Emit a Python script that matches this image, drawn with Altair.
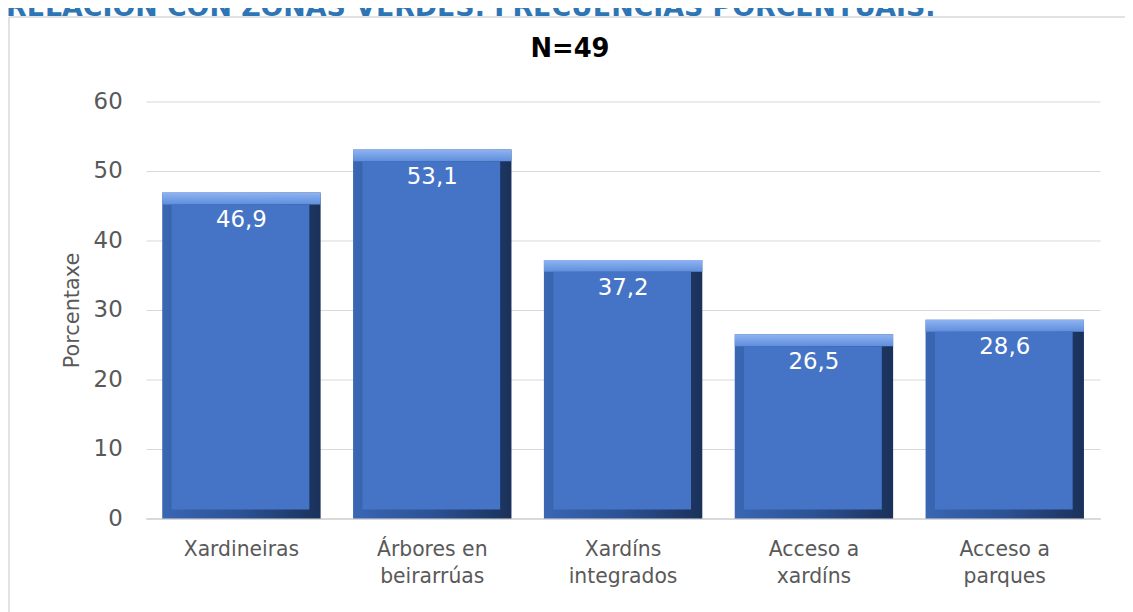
import altair as alt
import pandas as pd

categories = ["Xardineiras", "Árbores en|beirarrúas", "Xardíns|integrados", "Acceso a|xardíns", "Acceso a|parques"]
values = [46.9, 53.1, 37.2, 26.5, 28.6]
value_labels = ["46,9", "53,1", "37,2", "26,5", "28,6"]
y_ticks = [0, 10, 20, 30, 40, 50, 60]
page_title = ["RELACIÓN CON ZONAS VERDES. FRECUENCIAS PORCENTUAIS."]
chart_title = ["N=49"]

df = pd.DataFrame({"cat": categories, "v": values, "lab": value_labels})

FONT = "DejaVu Sans"

x = alt.X("cat:N", sort=categories, title=None,
          scale=alt.Scale(paddingInner=0.17, paddingOuter=0.085),
          axis=alt.Axis(labelExpr="split(datum.label, '|')", labelAngle=0,
                        labelFontSize=20.5, labelColor="#595959", labelFont=FONT,
                        labelPadding=21, labelLineHeight=27, ticks=False,
                        domainColor="#d9d9d9", domainWidth=2, labelBaseline="top"))
y = alt.Y("v:Q", title="Porcentaxe",
          scale=alt.Scale(domain=[0, 60], nice=False),
          axis=alt.Axis(values=y_ticks, labelFontSize=23, labelColor="#595959",
                        labelFont=FONT, labelPadding=24, ticks=False, domain=False,
                        gridColor="#d9d9d9", gridWidth=1,
                        titleFont=FONT, titleFontSize=21, titleFontWeight="normal",
                        titleColor="#595959", titlePadding=11))

base = alt.Chart(df)

side_grad = alt.Gradient(gradient="linear", x1=0, x2=1, y1=0, y2=0,
                         stops=[alt.GradientStop(offset=0, color="#3a66b3"),
                                alt.GradientStop(offset=0.5, color="#2c5294"),
                                alt.GradientStop(offset=1, color="#1a3159")])
top_grad = alt.Gradient(gradient="linear", x1=0, x2=0, y1=0, y2=1,
                        stops=[alt.GradientStop(offset=0, color="#8fb4f2"),
                               alt.GradientStop(offset=1, color="#5f8edc")])

edge = base.mark_bar(color=side_grad).encode(x=x, y=y, y2=alt.datum(0))
top = base.mark_bar(color=top_grad, y2Offset=12).encode(x=x, y=y, y2="v:Q")
face = base.mark_bar(color="#4574c6", yOffset=12, y2Offset=-9, xOffset=-1,
                     width=alt.RelativeBandSize(0.87)).encode(x=x, y=y, y2=alt.datum(0))
labels = base.mark_text(color="white", font=FONT, fontSize=23, baseline="middle", dy=28).encode(
    x=x, y=y, text="lab:N")

frame = alt.Chart(pd.DataFrame({"t": page_title}))
border_left = frame.mark_rule(color="#d9d9d9", strokeWidth=1.5).encode(
    x=alt.value(-138), y=alt.value(-85), y2=alt.value(520))
border_top = frame.mark_rule(color="#d9d9d9", strokeWidth=1.5).encode(
    x=alt.value(-138), x2=alt.value(990), y=alt.value(-85))
head = frame.mark_text(color="#2E75B6", font=FONT, fontSize=27, fontWeight="bold",
                       align="left", baseline="alphabetic").encode(
    x=alt.value(-141), y=alt.value(-86), text="t:N")

ntitle = alt.Chart(pd.DataFrame({"t": chart_title})).mark_text(
    font=FONT, fontSize=26, fontWeight="bold", color="#000000",
    align="center", baseline="middle").encode(
    x=alt.value(427), y=alt.value(-53), text="t:N")

chart = alt.layer(border_left, border_top, head, ntitle, edge, top, face, labels).properties(
    width=961, height=420,
    autosize=alt.AutoSizeParams(type="none"),
    padding={"left": 139, "top": 92, "right": 25, "bottom": 92},
    background="white",
).configure_view(stroke=None)

chart.save("out.html", embed_options={"renderer": "svg", "actions": False})
